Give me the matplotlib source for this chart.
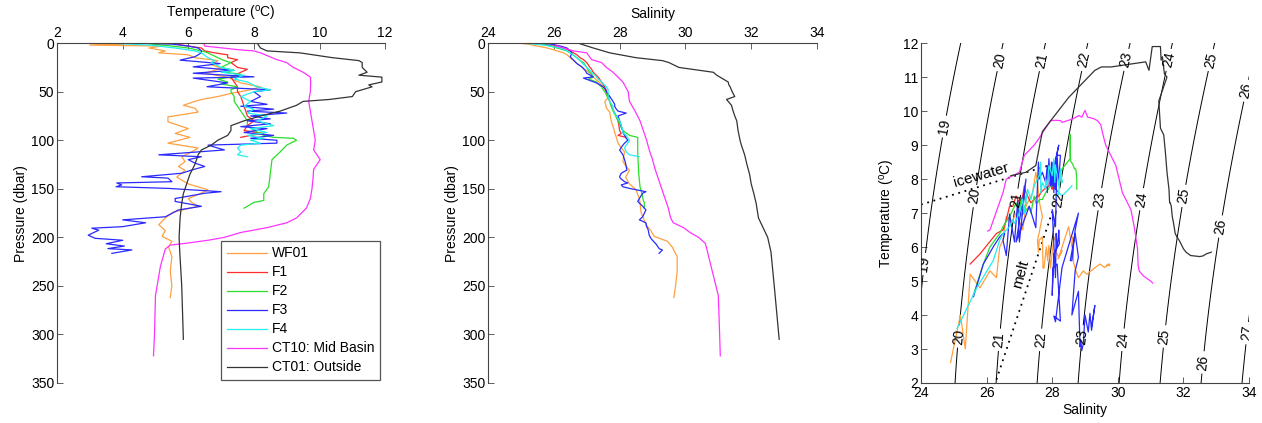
import numpy as np
import matplotlib
matplotlib.use("Agg")
import matplotlib.pyplot as plt

plt.rcParams['font.family'] = ['Liberation Sans', 'DejaVu Sans']
plt.rcParams['mathtext.fontset'] = 'custom'
plt.rcParams['mathtext.rm'] = 'Liberation Sans'
plt.rcParams['font.size'] = 10

# ---- station profiles: pressure (dbar), temperature (C), salinity ----
wf01_p = [0, 1, 2, 3, 5, 8, 10, 12, 15, 18, 22, 26, 31, 35, 41, 45, 48, 52, 55, 58, 60, 64, 67, 71,
          76, 81, 88, 93, 97, 103, 108, 112, 117, 122, 127, 131, 138, 145, 151, 156, 160, 164, 168,
          174, 180, 187, 193, 199, 204, 210, 220, 235, 250, 262]
wf01_t = [2.6, 4.0, 3.0, 5.2, 4.8, 5.3, 5.1, 6.0, 6.2, 6.9, 6.7, 7.0, 6.5, 7.2, 7.6, 8.2, 7.9, 7.27, 6.9,
          6.41, 6.2, 5.85, 6.2, 6.3, 5.38, 5.38, 6.0, 5.6, 6.05, 5.38, 6.3, 6.1, 5.8, 5.9, 5.7, 5.9, 5.65,
          6.0, 6.6, 6.3, 6.0, 6.1, 6.3, 5.55, 5.3, 5.1, 5.3, 5.2, 5.5, 5.4, 5.5, 5.45, 5.5, 5.45]
wf01_s = [24.9, 25.2, 25.35, 25.5, 25.8, 26.1, 26.3, 26.4, 26.5, 26.6, 26.75, 26.9, 27.1, 27.2, 27.4,
          27.5, 27.55, 27.62, 27.7, 27.6, 27.55, 27.58, 27.6, 27.7, 27.72, 27.75, 27.82, 27.86, 27.9,
          27.95, 28.05, 28.15, 28.12, 28.1, 28.2, 28.3, 28.18, 28.3, 28.5, 28.55, 28.6, 28.62, 28.63,
          28.65, 28.72, 28.8, 28.95, 29.05, 29.45, 29.6, 29.75, 29.75, 29.7, 29.65]

f1_p = [0, 2, 5, 8, 10, 12, 15, 17, 20, 25, 27, 30, 35, 40, 45, 50, 55, 65, 75, 80, 85, 90, 93, 95, 97]
f1_t = [5.5, 5.8, 6.4, 6.5, 6.8, 7.2, 7.2, 7.5, 7.3, 7.5, 7.8, 7.6, 7.3, 7.4, 7.5, 7.5, 7.6, 7.7, 7.8,
        8.0, 7.8, 7.7, 8.3, 7.9, 7.6]
f1_s = [25.5, 25.8, 26.3, 26.5, 26.6, 26.7, 26.8, 26.9, 27.0, 27.1, 27.15, 27.2, 27.35, 27.45, 27.55,
        27.6, 27.65, 27.75, 27.9, 27.95, 27.98, 28.0, 28.05, 27.95, 28.2]

f2_p = [0, 3, 5, 8, 10, 15, 18, 20, 25, 28, 30, 32, 35, 37, 40, 42, 45, 48, 50, 55, 60, 65, 70, 75, 80,
        85, 90, 95, 97, 98, 100, 105, 112, 120, 134, 148, 155, 162, 164, 170]
f2_t = [4.6, 5.5, 6.0, 6.4, 6.6, 6.9, 7.1, 7.3, 7.0, 7.4, 7.1, 7.6, 7.3, 6.9, 7.2, 7.0, 7.5, 7.3, 7.3,
        7.4, 7.4, 7.5, 7.6, 7.7, 7.8, 7.8, 8.0, 8.3, 8.6, 9.2, 9.3, 9.0, 8.8, 8.55, 8.5, 8.45, 8.3, 8.3,
        8.0, 7.7]
f2_s = [25.6, 25.9, 26.1, 26.4, 26.5, 26.7, 26.8, 26.9, 27.0, 27.05, 27.1, 27.15, 27.2, 27.05, 27.3,
        27.35, 27.45, 27.5, 27.55, 27.62, 27.7, 27.75, 27.8, 27.88, 27.95, 28.02, 28.1, 28.3, 28.55,
        28.55, 28.55, 28.55, 28.55, 28.56, 28.58, 28.62, 28.68, 28.72, 28.75, 28.75]

f3_p = [0, 1, 3, 5, 8, 10, 14, 17.5, 21, 24.4, 28, 31, 34.7, 36, 41, 44.9, 48, 50, 55, 60, 63, 65, 68,
        70, 72, 75, 78, 80, 83, 86, 88, 92, 95, 98, 100, 103, 105, 110, 115, 117, 120, 123.5, 127, 130.7,
        134, 137.6, 139, 142.7, 144, 146, 147.9, 149.6, 153, 154.6, 160, 163, 168, 171.8, 178.8, 182,
        185, 189, 190.6, 192.6, 197.8, 201, 203, 206.6, 209, 211.6, 213, 216.5]
f3_t = [4.54, 5.5, 6.0, 6.3, 6.4, 6.4, 6.2, 5.75, 6.97, 6.15, 7.37, 6.15, 8.0, 6.15, 7.2, 6.57, 8.5,
        8.0, 8.2, 7.9, 8.4, 7.6, 8.6, 7.8, 9.0, 7.9, 8.5, 7.8, 8.5, 7.6, 8.4, 7.7, 8.6, 7.9, 8.7, 8.7,
        6.6, 7.1, 5.1, 6.4, 6.0, 6.2, 6.5, 6.1, 5.8, 4.58, 5.38, 5.5, 3.82, 3.97, 3.8, 5.4, 7.0, 6.5, 5.6,
        5.6, 6.4, 5.7, 5.3, 4.0, 4.7, 4.0, 3.06, 3.27, 2.95, 3.16, 4.0, 3.5, 4.05, 3.55, 4.28, 3.67]
f3_s = [25.6, 25.9, 26.2, 26.4, 26.5, 26.55, 26.5, 26.6, 26.7, 26.85, 26.95, 27.0, 27.2, 26.9, 27.3,
        27.5, 27.58, 27.6, 27.7, 27.8, 27.85, 27.85, 27.9, 27.95, 28.2, 27.95, 27.98, 28.0, 28.03, 28.05,
        28.08, 28.1, 28.15, 28.2, 28.25, 28.15, 28.1, 28.0, 28.1, 28.12, 28.15, 28.18, 28.2, 28.22,
        28.05, 28.0, 28.02, 28.15, 28.25, 28.05, 28.1, 28.3, 28.8, 28.7, 28.6, 28.55, 28.7, 28.8, 28.7,
        28.6, 28.8, 28.82, 28.85, 28.87, 28.9, 28.95, 29.0, 29.1, 29.15, 29.2, 29.3, 29.2]

f4_p = [0, 2, 5, 8, 10, 15, 18, 20, 25, 28, 30, 33, 37, 40, 45, 48, 50, 55, 60, 65, 68, 72, 75, 80, 85,
        88, 92, 95, 98, 100, 103, 105, 108, 112, 115, 117]
f4_t = [3.6, 4.8, 5.6, 6.2, 6.4, 6.6, 6.8, 6.7, 7.0, 7.4, 7.0, 7.7, 7.4, 7.8, 8.1, 8.5, 8.0, 7.6, 7.9,
        7.7, 8.0, 7.8, 8.4, 8.1, 8.6, 7.9, 8.4, 7.8, 8.3, 7.9, 8.2, 7.6, 7.5, 7.6, 7.5, 7.8]
f4_s = [25.1, 25.7, 26.2, 26.4, 26.5, 26.7, 26.8, 26.85, 27.0, 27.1, 27.15, 27.25, 27.35, 27.45, 27.6,
        27.65, 27.65, 27.65, 27.7, 27.8, 27.8, 27.85, 27.9, 28.0, 28.05, 28.08, 28.1, 28.2, 28.25, 28.3,
        28.25, 28.2, 28.15, 28.2, 28.3, 28.6]

ct10_p = [0, 3, 7, 8, 10, 17, 20, 25, 30, 35, 40, 50, 60, 70, 80, 90, 100, 110, 120, 130, 140, 150,
          160, 170, 180, 185, 190, 195, 200, 203, 206, 208, 212, 230, 260, 300, 322]
ct10_t = [6.47, 6.5, 7.6, 8.0, 8.2, 8.7, 9.0, 9.2, 9.5, 9.72, 9.73, 9.72, 9.67, 9.72, 9.77, 9.82, 9.87,
          9.82, 10.02, 9.82, 9.8, 9.77, 9.72, 9.6, 9.3, 9.0, 8.4, 7.6, 7.1, 6.6, 5.96, 5.45, 5.3, 5.15,
          5.0, 4.97, 4.94]
ct10_s = [26.03, 26.1, 26.5, 26.6, 27.0, 27.15, 27.45, 27.6, 27.8, 27.95, 28.1, 28.26, 28.3, 28.47,
          28.62, 28.72, 28.82, 28.9, 29.0, 29.08, 29.18, 29.28, 29.38, 29.48, 29.55, 29.63, 29.94, 30.14,
          30.4, 30.5, 30.6, 30.62, 30.65, 30.78, 31.0, 31.04, 31.06]

ct01_p = [0, 5, 8, 10, 15, 18, 20, 25, 30, 33, 35, 40, 43, 45, 50, 55, 58, 60, 64, 70, 75, 80, 85, 90,
          95, 100, 105, 110, 115, 125, 135, 145, 155, 165, 180, 200, 215, 250, 305]
ct01_t = [8.1, 8.2, 8.4, 9.4, 10.4, 11.2, 11.3, 11.3, 11.45, 11.2, 11.9, 11.9, 11.5, 11.6, 11.1, 11.0,
          10.3, 9.5, 9.3, 8.8, 8.2, 7.7, 7.3, 7.3, 7.2, 6.9, 6.7, 6.4, 6.3, 6.2, 6.05, 5.95, 5.85, 5.8,
          5.75, 5.72, 5.74, 5.8, 5.85]
ct01_s = [26.74, 27.2, 27.5, 27.7, 28.5, 29.3, 29.5, 29.8, 30.85, 30.95, 31.05, 31.3, 31.32, 31.36,
          31.42, 31.5, 31.25, 31.3, 31.4, 31.45, 31.5, 31.56, 31.58, 31.6, 31.63, 31.66, 31.7, 31.75,
          31.8, 31.87, 31.95, 32.0, 32.08, 32.15, 32.22, 32.5, 32.6, 32.7, 32.85]

stations = [
    ("WF01", wf01_p, wf01_t, wf01_s, "#ffa040"),
    ("F1", f1_p, f1_t, f1_s, "#ff2a2a"),
    ("F2", f2_p, f2_t, f2_s, "#2ade2a"),
    ("F3", f3_p, f3_t, f3_s, "#2a2aff"),
    ("F4", f4_p, f4_t, f4_s, "#22eeee"),
    ("CT10: Mid Basin", ct10_p, ct10_t, ct10_s, "#ff33ff"),
    ("CT01: Outside", ct01_p, ct01_t, ct01_s, "#333333"),
]

# mixing lines on the T-S diagram
icewater_s = [24.0, 28.13]
icewater_t = [7.25, 8.47]
melt_s = [26.3, 28.13]
melt_t = [2.1, 7.4]

sigma_levels = [19, 20, 21, 22, 23, 24, 25, 26, 27]
label_pos = [(24.68, 9.55), (24.12, 5.5),
             (26.4, 11.5), (25.64, 7.5), (25.14, 3.37),
             (27.67, 11.5), (26.86, 7.4), (26.4, 3.27),
             (29.0, 11.5), (28.18, 7.4), (27.62, 3.27),
             (30.3, 11.5), (29.5, 7.4), (28.9, 3.37),
             (31.58, 11.5), (30.77, 7.4), (30.16, 3.27),
             (32.85, 11.5), (32.04, 7.5), (31.43, 3.37),
             (33.92, 10.6), (33.16, 6.6), (32.65, 2.6),
             (33.92, 3.47)]


def sigma_t(S, T):
    # UNESCO 1980 equation of state at surface pressure
    rho_w = (999.842594 + 6.793952e-2 * T - 9.095290e-3 * T**2 + 1.001685e-4 * T**3
             - 1.120083e-6 * T**4 + 6.536332e-9 * T**5)
    A = 8.24493e-1 - 4.0899e-3 * T + 7.6438e-5 * T**2 - 8.2467e-7 * T**3 + 5.3875e-9 * T**4
    B = -5.72466e-3 + 1.0227e-4 * T - 1.6546e-6 * T**2
    C = 4.8314e-4
    return rho_w + A * S + B * S**1.5 + C * S**2 - 1000.0


fig = plt.figure(figsize=(12.62, 4.23), dpi=100)
ax1 = fig.add_axes([0.0452, 0.0946, 0.260, 0.8034])
ax2 = fig.add_axes([0.3867, 0.0946, 0.2607, 0.8034])
ax3 = fig.add_axes([0.7298, 0.0946, 0.2599, 0.8034])

lw = 0.9
for name, p, t, s, c in stations:
    ax1.plot(t, p, color=c, lw=lw, label=name)
    ax2.plot(s, p, color=c, lw=lw)

for ax, xl, xt, lab in [(ax1, (2, 12), range(2, 13, 2), r'Temperature ($^{\rm o}$C)'),
                        (ax2, (24, 34), range(24, 35, 2), 'Salinity')]:
    ax.set_xlim(*xl)
    ax.set_ylim(350, 0)
    ax.set_xticks(list(xt))
    ax.set_yticks(range(0, 351, 50))
    ax.xaxis.tick_top()
    ax.xaxis.set_label_position('top')
    ax.set_xlabel(lab, labelpad=6)
    ax.set_ylabel('Pressure (dbar)', labelpad=2)
    ax.spines['right'].set_visible(False)
    ax.spines['bottom'].set_visible(False)
    for sp in ('top', 'left'):
        ax.spines[sp].set_color('#444444')
        ax.spines[sp].set_linewidth(0.8)
    ax.tick_params(direction='in', length=4, width=0.6, colors='#444444',
                   labelcolor='black', labelsize=10, pad=2)

leg = ax1.legend(loc='lower right', bbox_to_anchor=(0.985, 0.009), borderaxespad=0,
                 fancybox=False, edgecolor='#555555', framealpha=1, fontsize=10,
                 handlelength=2.9, handletextpad=0.35, labelspacing=0.36, borderpad=0.4)
leg.get_frame().set_linewidth(0.9)

# T-S diagram with sigma-t contours
sg, tg = np.meshgrid(np.linspace(23.8, 34.2, 300), np.linspace(1.8, 12.2, 300))
cs = ax3.contour(sg, tg, sigma_t(sg, tg), levels=sigma_levels, colors='black', linewidths=0.7)
ax3.clabel(cs, fmt='%d', fontsize=10, inline=True, inline_spacing=3, manual=label_pos)

ax3.plot(icewater_s, icewater_t, color='black', ls=(0, (1, 2.6)), lw=1.3)
ax3.plot(melt_s, melt_t, color='black', ls=(0, (1, 2.6)), lw=1.3)
ax3.text(25.85, 8.1, 'icewater', rotation=16, ha='center', va='center', fontsize=11)
ax3.text(27.05, 5.2, 'melt', rotation=75, ha='center', va='center', fontsize=11)

for name, p, t, s, c in stations:
    ax3.plot(s, t, color=c, lw=lw)

ax3.set_xlim(24, 34)
ax3.set_ylim(2, 12)
ax3.set_xticks(range(24, 35, 2))
ax3.set_yticks(range(2, 13))
ax3.set_xlabel('Salinity', labelpad=2)
ax3.set_ylabel(r'Temperature ($^{\rm o}$C)', labelpad=4)
ax3.spines['right'].set_visible(False)
ax3.spines['top'].set_visible(False)
for sp in ('bottom', 'left'):
    ax3.spines[sp].set_color('#444444')
    ax3.spines[sp].set_linewidth(0.8)
ax3.tick_params(direction='in', length=4, width=0.6, colors='#444444',
                labelcolor='black', labelsize=10, pad=2)

fig.savefig('out.png', dpi=100)
